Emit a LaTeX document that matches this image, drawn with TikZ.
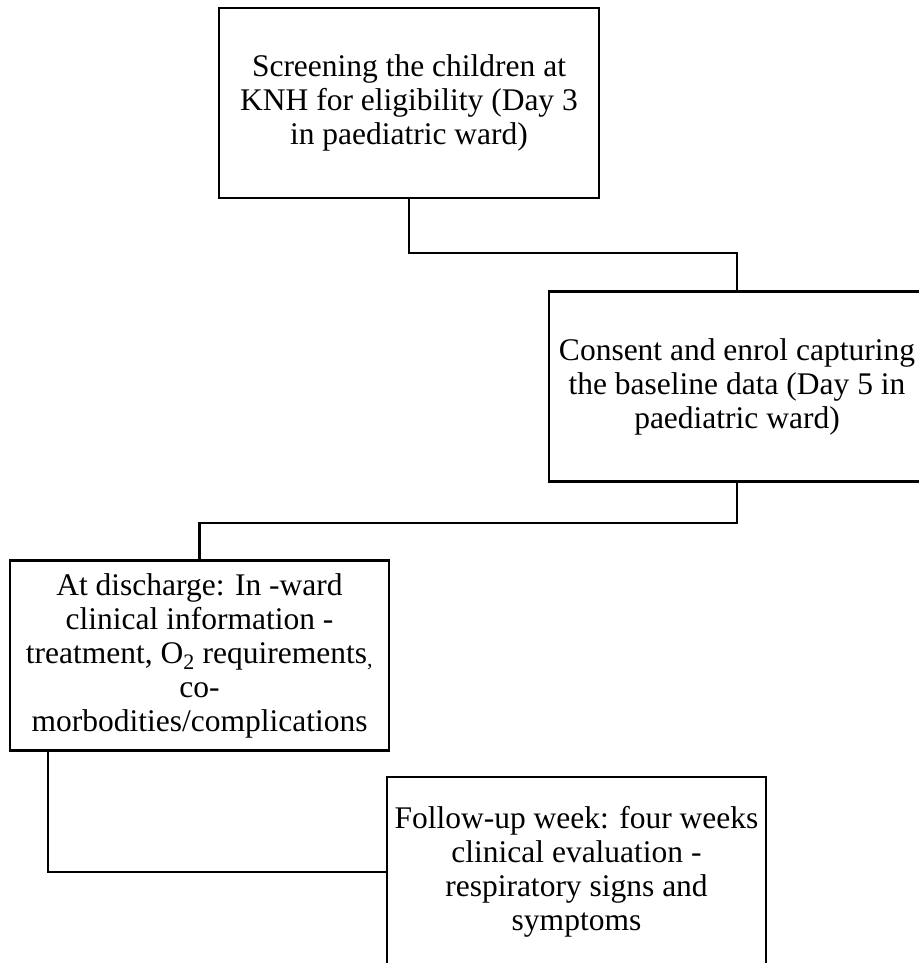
\documentclass[tikz,border=0pt]{standalone}
\usepackage{fontspec}
\setmainfont{Liberation Serif}
\begin{document}
\begin{tikzpicture}[x=1pt,y=-1pt,
  stage/.style={draw,line width=2.2pt,align=center,inner sep=0pt,
    minimum width=380pt,minimum height=190pt,
    font=\fontsize{31.5}{34}\selectfont},
  link/.style={line width=2.2pt}]
\useasboundingbox (0,0) rectangle (918,963);
\node[stage] (screen) at (409,103) {Screening the children at\\KNH for eligibility (Day 3\\in paediatric ward)};
\node[stage,minimum width=376pt] (enrol) at (737,386.5) {Consent and enrol capturing\\the baseline data (Day 5 in\\paediatric ward)};
\node[stage,minimum width=379pt] (discharge) at (199.5,655.5) {At discharge: In -ward\\clinical information -\\treatment, O\textsubscript{2} requirements\textsubscript{,}\\co-\\morbodities/complications};
\node[stage,minimum width=379pt] (followup) at (576.5,872) {Follow-up week: four weeks\\clinical evaluation -\\respiratory signs and\\symptoms};
\coordinate (d) at ([xshift=39pt]discharge.south west);
\draw[link] (screen.south) -- ++(0,54) -| (enrol.north);
\draw[link] (enrol.south) -- ++(0,40) -| (discharge.north);
\draw[link] (d) |- (followup.west);
\end{tikzpicture}
\end{document}
